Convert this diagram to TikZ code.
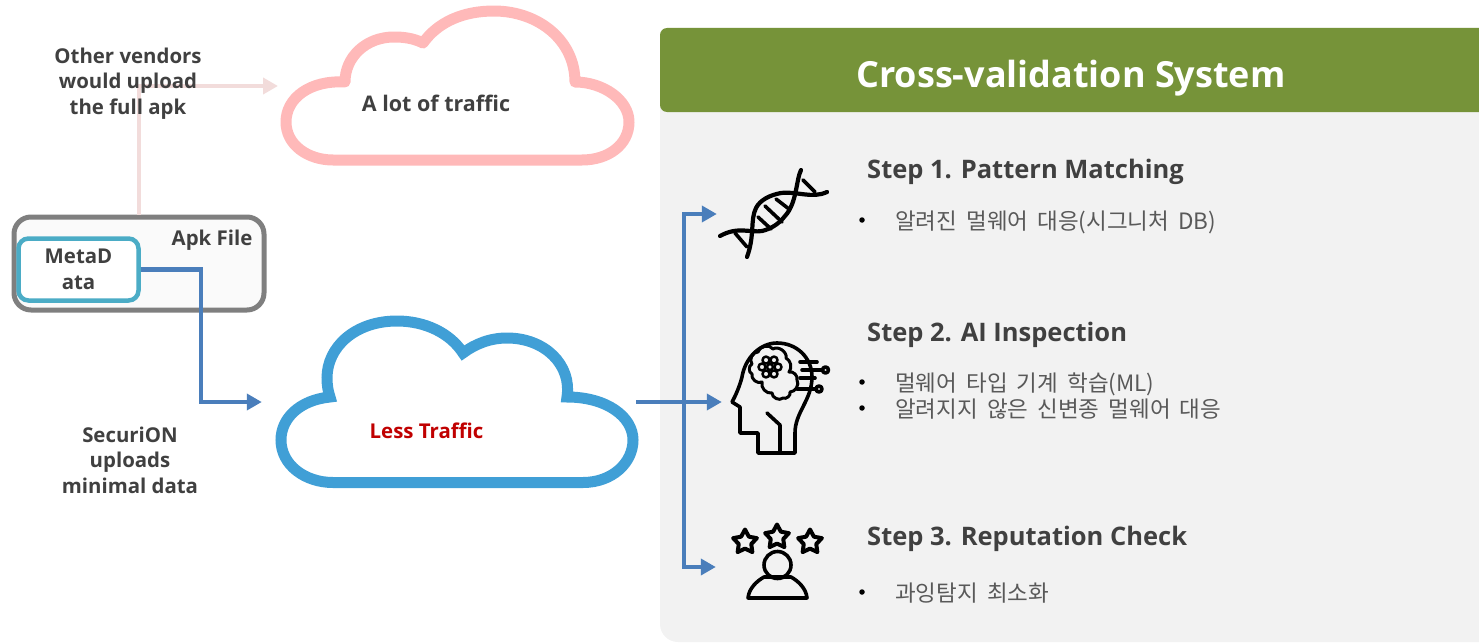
\documentclass[tikz,border=0pt]{standalone}
\usepackage{fontspec}
\usepackage{tikz}
\usetikzlibrary{arrows.meta,shapes.geometric}
\setmainfont{Open Sans}
\newfontfamily\krfont[WordSpace=1.8]{Noto Sans CJK KR}
\definecolor{darktext}{HTML}{404040}
\definecolor{softtext}{HTML}{595959}
\definecolor{panelgrey}{HTML}{F2F2F2}
\definecolor{headerolive}{HTML}{769339}
\definecolor{flowblue}{HTML}{4A7EBB}
\definecolor{flowpink}{HTML}{F2DCDB}
\definecolor{cloudpink}{HTML}{FFB9B9}
\definecolor{cloudblue}{HTML}{409FD6}
\definecolor{metateal}{HTML}{4BACC6}
\definecolor{frameshade}{HTML}{7F7F7F}
\definecolor{trafficred}{HTML}{C00000}
\tikzset{
  boldlabel/.style={font=\fontsize{20.4}{25.5}\selectfont\bfseries, text=darktext, align=center, inner sep=0pt},
  steplabel/.style={font=\fontsize{25.5}{30}\selectfont\bfseries, text=darktext, anchor=west, inner sep=0pt},
  bulletdot/.style={circle, fill=black, inner sep=0pt, minimum size=5.5pt},
  korlabel/.style={font=\fontsize{22.5}{26}\selectfont\krfont, text=softtext, anchor=west, inner sep=0pt},
  flowline/.style={draw=flowblue, line width=4.5pt, -{Triangle[length=15pt,width=16pt]}},
  pinkline/.style={draw=flowpink, line width=4.5pt, -{Triangle[length=15pt,width=16pt]}},
  iconbox/.style={inner sep=0pt, minimum height=10pt},
  iconline/.style={draw=black, line width=3.6pt, line join=round, line cap=round},
  starmark/.style={star, star points=5, star point ratio=1.9, draw=black, line width=4pt, line join=round, inner sep=0pt, minimum size=25pt},
}
\begin{document}
\begin{tikzpicture}[x=1pt,y=-1pt]
\useasboundingbox (0,0) rectangle (1479,642);

% right panel
\fill[panelgrey,rounded corners=18pt] (1479,28) -- (660,28) -- (660,642) -- (1479,642);
\fill[headerolive,rounded corners=7pt] (1479,28) -- (660,28) -- (660,112) -- (1479,112);
\node[font=\fontsize{36}{40}\selectfont\bfseries, text=white, inner sep=0pt] (title) at (1071,78) {Cross-validation System};

% clouds
\draw[cloudpink, line width=11pt, line join=round] (333,160) -- (582,160)
  .. controls (608,160) and (629,145) .. (629,122)
  .. controls (629,100) and (603,82) .. (575,82)
  .. controls (575,40) and (538,11) .. (494,11)
  .. controls (463,11) and (438,22) .. (423,43)
  .. controls (413,38) and (403,37) .. (394,37)
  .. controls (366,37) and (345,57) .. (345,82)
  .. controls (310,80) and (286,98) .. (286,122)
  .. controls (286,145) and (308,160) .. (333,160) -- cycle;
\draw[cloudblue, line width=11pt] (333,482.5) -- (583,482.5)
  .. controls (612,482.5) and (633,463) .. (633,440)
  .. controls (633,417) and (607,397) .. (567,397)
  .. controls (572,365) and (545,338) .. (507,338)
  .. controls (490,338) and (475,344) .. (463,353)
  .. controls (450,333) and (425,321) .. (397,321)
  .. controls (355,321) and (327,347) .. (327,378)
  .. controls (327,385) and (328,391) .. (330,397)
  .. controls (300,400) and (281,418) .. (281,440)
  .. controls (281,465) and (305,482.5) .. (333,482.5) -- cycle;

% apk file
\node[draw=frameshade, fill=black!2, line width=5pt, rounded corners=17pt, minimum width=250pt, minimum height=93pt, inner sep=0pt] (apkfile) at (139,263.5) {};
\node[draw=metateal, fill=white, line width=4.5pt, rounded corners=10pt, minimum width=120pt, minimum height=62pt, inner sep=0pt, boldlabel] (metadata) at (78.5,269.5) {MetaD\\ata};
\node[boldlabel] (apklabel) at (212,240) {Apk File};

% anchors for the connectors
\node[iconbox, minimum width=374pt] (lesscloud) at (449,402) {};
\node[iconbox, minimum width=112pt] (dnaicon) at (773,214) {};
\node[iconbox, minimum width=96pt] (headicon) at (770,402) {};
\node[iconbox, minimum width=124pt] (personicon) at (778,567) {};
\coordinate (trafficin) at (278,86);
\coordinate (turn) at (201,269.5);
\coordinate (branch) at (684,402);

% connectors
\draw[pinkline] (apkfile.north) |- (trafficin);
\draw[flowline] (metadata.east) -- (turn) |- (lesscloud.west);
\draw[flowline] (lesscloud.east) -- (headicon.west);
\draw[flowline] (branch) |- (dnaicon.west);
\draw[flowline] (branch) |- (personicon.west);

% left labels
\node[boldlabel] (vendorlabel) at (128,83.5) {Other vendors\\would upload\\the full apk};
\node[boldlabel] (securionlabel) at (130,460) {SecuriON\\uploads\\minimal data};
\node[boldlabel, font=\fontsize{21.5}{25}\selectfont\bfseries] (lotlabel) at (436,103) {A lot of traffic};
\node[boldlabel] (lesslabel) at (426.5,431) {\textcolor{trafficred}{Less Traffic}};

% steps
\node[steplabel] (stepone) at (867,172) {Step 1. Pattern Matching};
\node[bulletdot] (dotone) at (862,220) {};
\node[korlabel] (textone) at (895,222) {알려진 멀웨어 대응(시그니처 DB)};
\node[steplabel] (steptwo) at (867,335) {Step 2. AI Inspection};
\node[bulletdot] (dottwoa) at (862,382) {};
\node[korlabel] (texttwoa) at (895,384) {멀웨어 타입 기계 학습(ML)};
\node[bulletdot] (dottwob) at (862,408) {};
\node[korlabel] (texttwob) at (895,409) {알려지지 않은 신변종 멀웨어 대응};
\node[steplabel] (stepthree) at (867,539) {Step 3. Reputation Check};
\node[bulletdot] (dotthree) at (862,592) {};
\node[korlabel] (textthree) at (895,593) {과잉탐지 최소화};

% dna icon
\draw[iconline, line width=4.2pt] (801,170) .. controls (796,180) and (797,203) .. (785,216)
  .. controls (778,225) and (770,229) .. (762,231)
  .. controls (750,233) and (738,226) .. (720,236);
\draw[iconline, line width=4.2pt] (827,192) .. controls (812,199) and (797,191) .. (781,193)
  .. controls (770,195) and (760,200) .. (756,208)
  .. controls (750,220) and (755,235) .. (747,257);
\draw[iconline] (776,199) -- (789,209);
\draw[iconline] (765,206) -- (782,222);
\draw[iconline] (758,217) -- (771,229);
\draw[iconline] (803,180) -- (815,192);
\draw[iconline] (735,233) -- (747,247);

% head icon
\draw[iconline] (758,453) -- (758,433) -- (740,433) -- (740,407) -- (732,402)
  .. controls (736,395) and (740,385) .. (742,377)
  .. controls (745,358) and (760,343) .. (777,343)
  .. controls (797,343) and (812,358) .. (812,377)
  .. controls (812,400) and (795,412) .. (795,433) -- (795,453) -- cycle;
\draw[iconline] (767,413) -- (780,425) -- (780,453);
\draw[iconline, line width=3pt] (752,364) to[bend left=70] (758,352) to[bend left=70] (773,349)
  to[bend left=70] (786,358) to[bend left=50] (789,372) to[bend left=60] (797,380)
  to[bend left=60] (790,392) to[bend left=70] (783,398) to[bend left=70] (772,393)
  to[bend left=60] (762,382) to[bend left=70] (752,374) to[bend left=70] (752,364) -- cycle;
\draw[iconline, line width=2.5pt] (770,367) circle (3pt);
\foreach \ang in {0,60,...,300}
  \draw[iconline, line width=2.5pt] (770,367) ++(\ang:8pt) circle (3.5pt);
\draw[iconline] (800,362) -- (817,362);
\draw[iconline] (802,370) -- (822,370);
\draw[iconline] (800,378) -- (815,378);
\draw[iconline] (797,389) -- (815,389);
\draw[iconline, fill=panelgrey] (825.5,370) circle (3pt);
\draw[iconline, fill=panelgrey] (819,389) circle (3pt);

% person icon
\node[starmark] (stara) at (745,542) {};
\node[starmark] (starb) at (777,537) {};
\node[starmark] (starc) at (810,542) {};
\draw[iconline] (777.5,565) circle (13.5pt);
\draw[iconline] (748,598) .. controls (749,588) and (757,581) .. (764,577)
  -- (791,577) .. controls (798,581) and (806,588) .. (807,598) -- cycle;
\end{tikzpicture}
\end{document}
